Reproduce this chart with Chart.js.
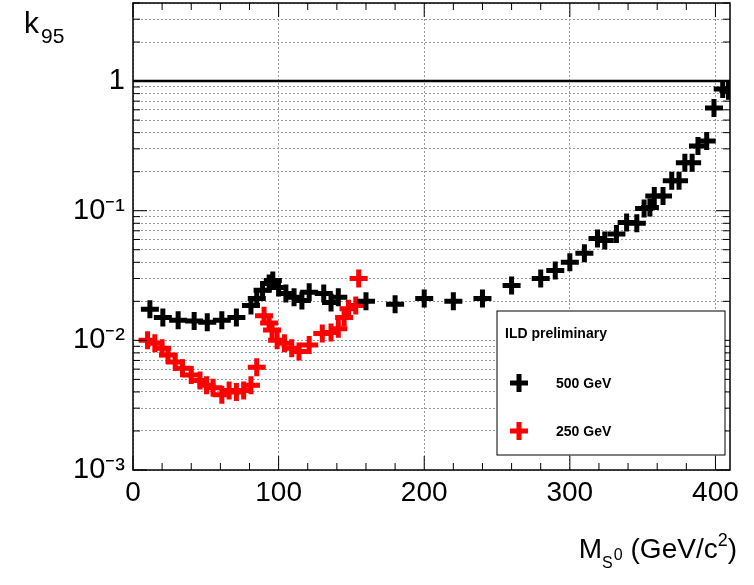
<!DOCTYPE html>
<html><head><meta charset="utf-8">
<script src="https://cdn.jsdelivr.net/npm/chart.js@4"></script>
<style>html,body{margin:0;padding:0;background:#fff;overflow:hidden}#w{width:754px;height:596px;margin-top:-11px}</style>
</head><body><div id="w"><canvas id="c"></canvas></div>
<script>
const mass500 = [11.6,20.5,31,42,51,61,71,81,85,89,93.5,96,100,105,110.6,116,121,131,136,141,160,180,200,220,240,260,280,290,300,310,319,324,332,339,346,351,355,358,364,370,375,379,384,388,394,399,405,409];
const k500 = [0.0174,0.015,0.0143,0.0141,0.0138,0.0143,0.015,0.0186,0.021,0.0243,0.0275,0.029,0.0256,0.023,0.0215,0.0203,0.0235,0.023,0.0196,0.0215,0.020,0.019,0.021,0.020,0.021,0.0265,0.030,0.0345,0.040,0.047,0.061,0.059,0.066,0.081,0.080,0.104,0.106,0.13,0.13,0.17,0.17,0.234,0.234,0.316,0.345,0.62,0.87,0.84];
const mass250 = [10,15,20,24,29,34,40,46,50.5,55,61,66,71,76,81,85,90,93.5,95.5,99,104,109,114,121,130,136,141,145,148,153,155];
const k250 = [0.010,0.0095,0.0087,0.0077,0.0068,0.0061,0.0054,0.0049,0.0045,0.0043,0.0038,0.0041,0.0040,0.0041,0.0045,0.0062,0.0155,0.0136,0.012,0.010,0.0095,0.0087,0.0082,0.0092,0.0113,0.0115,0.0123,0.015,0.0175,0.0186,0.030];
const legendTitle = "ILD preliminary";
const xTicks = [0,100,200,300,400];
const F = "'Liberation Sans', Arial, sans-serif";
const sup = {'-':'⁻','1':'¹','2':'²','3':'³'};
function toPts(xs,ys){return xs.map((x,i)=>({x:x,y:ys[i]}));}
const extras = {
  id:'extras',
  afterDraw(ch){
    const c=ch.ctx, a=ch.chartArea;
    c.save();
    c.strokeStyle='#000'; c.lineWidth=1.5;
    c.strokeRect(a.left,a.top,a.right-a.left,a.bottom-a.top);
    const xs=ch.scales.x, ys=ch.scales.y;
    c.lineWidth=1;
    for(let v=0; v<=410; v+=20){const p=xs.getPixelForValue(v); const L=(v%100===0)?14:7;
      c.beginPath();c.moveTo(p,a.bottom);c.lineTo(p,a.bottom-L);c.stroke();
      c.beginPath();c.moveTo(p,a.top);c.lineTo(p,a.top+L);c.stroke();}
    for(let d=-3; d<=0; d++) for(let m=1;m<=9;m++){const v=m*Math.pow(10,d); if(v>4) continue;
      const p=ys.getPixelForValue(v); const L=m===1?14:7;
      c.beginPath();c.moveTo(a.left,p);c.lineTo(a.left+L,p);c.stroke();
      c.beginPath();c.moveTo(a.right,p);c.lineTo(a.right-L,p);c.stroke();}
    c.translate(0,11);
    c.fillStyle='#000'; c.font='30px '+F; c.textBaseline='alphabetic';
    c.textAlign='left'; c.fillText('k',24,33); c.font='21px '+F; c.fillText('95',41,43);
    let x=737;
    const parts=[['(GeV/c',28,0],['2',18,-12],[')',28,0]];
    let widths=parts.map(p=>{c.font=p[1]+'px '+F;return c.measureText(p[0]).width;});
    let tot=widths.reduce((s,w)=>s+w,0);
    let sx=x-tot;
    parts.forEach((p,i)=>{c.font=p[1]+'px '+F;c.fillText(p[0],sx,558+p[2]);sx+=widths[i];});
    sx=x-tot-8;
    c.font='16px '+F; const w0=c.measureText('0').width;
    c.fillText('0',sx-w0,560); const wS=c.measureText('S').width;
    c.fillText('S',sx-w0-wS-1,568);
    c.font='28px '+F; const wM=c.measureText('M').width; c.fillText('M',sx-w0-wS-wM-1,558);
    const bx=497,by=311,bw=228,bh=144;
    c.fillStyle='#fff'; c.fillRect(bx,by,bw,bh);
    c.strokeStyle='#000'; c.lineWidth=1; c.strokeRect(bx,by,bw,bh);
    c.fillStyle='#000'; c.font='bold 14px '+F; c.fillText(legendTitle,505,338);
    ch.data.datasets.slice(0,2).forEach((ds,i)=>{
      const yy=i===0?383:431;
      c.strokeStyle=ds.borderColor; c.lineWidth=5;
      c.beginPath();c.moveTo(519,yy-9);c.lineTo(519,yy+9);c.moveTo(510,yy);c.lineTo(528,yy);c.stroke();
      c.fillStyle='#000'; c.font='bold 14px '+F; c.fillText(ds.label,556,yy+5);
    });
    c.restore();
  }
};
new Chart(document.getElementById('c'),{
  type:'scatter',
  data:{datasets:[
    {label:'500 GeV',data:toPts(mass500,k500),pointStyle:'cross',pointRadius:9,pointBorderWidth:5,borderColor:'#000',backgroundColor:'#000',pointHoverRadius:9},
    {label:'250 GeV',data:toPts(mass250,k250),pointStyle:'cross',pointRadius:9,pointBorderWidth:5,borderColor:'#f00',backgroundColor:'#f00',pointHoverRadius:9},
    {label:'k=1',type:'line',data:[{x:0,y:1},{x:410,y:1}],borderColor:'#000',borderWidth:2.5,pointRadius:0}
  ]},
  options:{
    responsive:true,maintainAspectRatio:false,animation:false,
    layout:{padding:{left:0,right:24,top:3,bottom:0}},
    plugins:{legend:{display:false},tooltip:{enabled:false}},
    scales:{
      x:{type:'linear',min:0,max:410,
        afterBuildTicks(s){s.ticks=xTicks.map(v=>({value:v}));},
        ticks:{font:{family:F,size:28},color:'#000',padding:6,maxRotation:0},
        grid:{color:'#999',drawTicks:false},border:{display:false,dash:[2,2]},
        afterFit(s){s.height=115;s.paddingLeft=0;s.paddingRight=0;}},
      y:{type:'logarithmic',min:0.001,max:4,
        afterBuildTicks(s){const t=[];for(let d=-3;d<=0;d++)for(let m=1;m<=9;m++){const v=m*Math.pow(10,d);if(v<=4)t.push({value:v});}s.ticks=t;},
        ticks:{font:{family:F,size:29},color:'#000',padding:8,autoSkip:false,
          callback(v){const l=Math.log10(v);if(Math.abs(l-Math.round(l))>1e-6)return '';const r=Math.round(l);if(r===0)return '1';return '10'+String(r).split('').map(ch=>sup[ch]).join('');}},
        grid:{color:'#999',drawTicks:false},border:{display:false,dash:[2,2]},
        afterFit(s){s.width=133;s.paddingTop=0;s.paddingBottom=0;}}
    }
  },
  plugins:[extras]
});
</script></body></html>
